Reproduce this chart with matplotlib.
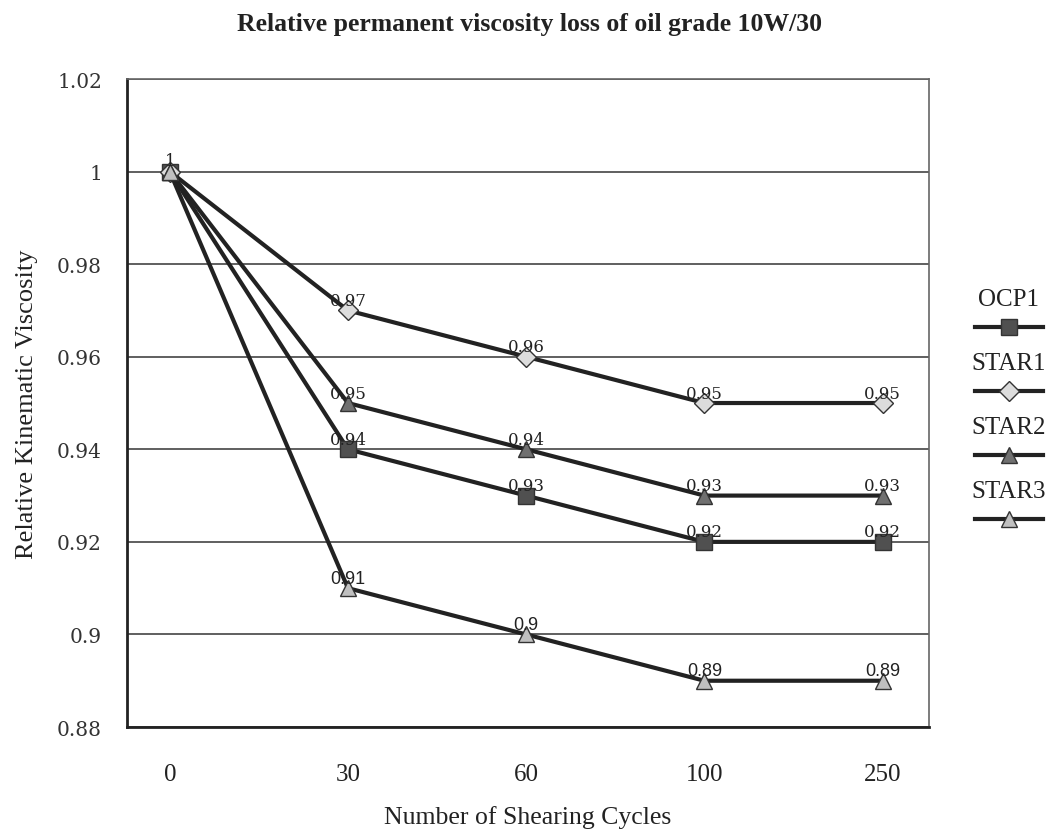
import matplotlib.pyplot as plt
from matplotlib.lines import Line2D

# data
cycles = ['0', '30', '60', '100', '250']
ocp1 = [1.00, 0.94, 0.93, 0.92, 0.92]
star1 = [1.00, 0.97, 0.96, 0.95, 0.95]
star2 = [1.00, 0.95, 0.94, 0.93, 0.93]
star3 = [1.00, 0.91, 0.90, 0.89, 0.89]
names = ['OCP1', 'STAR1', 'STAR2', 'STAR3']

serif = 'Liberation Serif'
wide = 'DejaVu Serif'
sans = 'Liberation Sans'

styles = [
    dict(marker='s', mfc='#505050', ms=12, font=wide, fs=12),
    dict(marker='D', mfc='#dcdcdc', ms=10, font=wide, fs=12),
    dict(marker='^', mfc='#707070', ms=12, font=wide, fs=12),
    dict(marker='^', mfc='#c0c0c0', ms=12, font=sans, fs=13),
]

fig = plt.figure(figsize=(10.53, 8.37), dpi=100)
ax = fig.add_axes([0.1206, 0.1302, 0.7615, 0.7742])

x = list(range(len(cycles)))
for vals, st in zip([ocp1, star1, star2, star3], styles):
    ax.plot(x, vals, color='#222222', linewidth=3, marker=st['marker'],
            markersize=st['ms'], markerfacecolor=st['mfc'],
            markeredgecolor='#333333', markeredgewidth=1, zorder=3)
    for xi, v in zip(x[1:], vals[1:]):
        ax.annotate('%g' % v, (xi, v), xytext=(0, 1), textcoords='offset points',
                    ha='center', va='bottom', fontsize=st['fs'], family=st['font'],
                    color='#222222', zorder=4)
ax.annotate('1', (0, 1.0), xytext=(0, 2), textcoords='offset points',
            ha='center', va='bottom', fontsize=12, family=wide, color='#222222')

ax.set_xlim(-0.24, 4.26)
ax.set_ylim(0.88, 1.02)
ax.set_yticks([0.88, 0.9, 0.92, 0.94, 0.96, 0.98, 1.0, 1.02])
ax.set_yticklabels(['0.88', '0.9', '0.92', '0.94', '0.96', '0.98', '1', '1.02'])
ax.set_xticks(x)
ax.set_xticklabels(cycles)
ax.tick_params(axis='x', length=0, labelsize=18, pad=26)
ax.tick_params(axis='y', length=0, labelsize=14.5, pad=18)
for lab in ax.get_xticklabels():
    lab.set_family(serif)
    lab.set_color('#222222')
for lab in ax.get_yticklabels():
    lab.set_family(wide)
    lab.set_color('#333333')
ax.yaxis.grid(True, color='#444444', linewidth=1.2)
ax.set_axisbelow(True)
for side in ['left', 'bottom']:
    ax.spines[side].set_linewidth(2)
    ax.spines[side].set_color('#222222')
for side in ['top', 'right']:
    ax.spines[side].set_linewidth(1.2)
    ax.spines[side].set_color('#666666')

ax.set_xlabel('Number of Shearing Cycles', family=serif, fontsize=18.5,
              labelpad=14, color='#222222')
ax.set_ylabel('Relative Kinematic Viscosity', family=serif, fontsize=19,
              labelpad=14, color='#222222')
fig.suptitle('Relative permanent viscosity loss of oil grade 10W/30',
             x=0.503, y=0.985, family=serif, fontsize=18.5, fontweight='bold',
             color='#222222')

# Excel-style legend: name above each line sample
lax = fig.add_axes([0.9164, 0.355, 0.0836, 0.31])
lax.set_xlim(0, 1)
lax.set_ylim(0, 1)
lax.axis('off')
for i, (nm, st) in enumerate(zip(names, styles)):
    ytxt = 0.923 - i * 0.246
    lax.text(0.5, ytxt, nm, ha='center', va='center', family=serif,
             fontsize=18, color='#222222')
    lax.add_line(Line2D([0.114, 0.886], [ytxt - 0.108] * 2, color='#222222',
                        linewidth=3))
    lax.plot([0.5], [ytxt - 0.108], marker=st['marker'], markersize=st['ms'],
             markerfacecolor=st['mfc'], markeredgecolor='#333333',
             markeredgewidth=1)

fig.savefig('out.png', dpi=100)
